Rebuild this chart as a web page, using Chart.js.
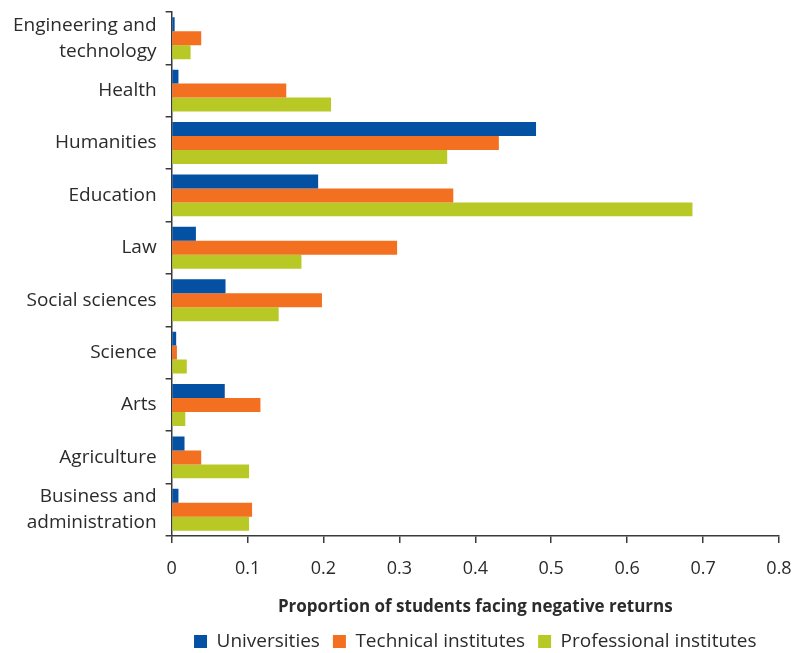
<!DOCTYPE html>
<html>
<head>
<meta charset="utf-8">
<script src="https://cdn.jsdelivr.net/npm/chart.js@4/dist/chart.umd.min.js"></script>
<style>
	html, body { margin: 0; padding: 0; background: #fff; }
	#wrap { width: 792px; height: 653px; }
</style>
</head>
<body>
<div id="wrap"><canvas id="chart" width="792" height="653"></canvas></div>
<script>
let canvas = document.getElementById('chart');
let ctx = canvas.getContext('2d');

let categories = [
	['Engineering and', 'technology'],
	'Health',
	'Humanities',
	'Education',
	'Law',
	'Social sciences',
	'Science',
	'Arts',
	'Agriculture',
	['Business and', 'administration']
];
let universities = [0.004, 0.009, 0.48, 0.193, 0.032, 0.071, 0.006, 0.07, 0.017, 0.009];
let technical = [0.039, 0.151, 0.431, 0.371, 0.297, 0.198, 0.007, 0.117, 0.039, 0.106];
let professional = [0.025, 0.21, 0.363, 0.686, 0.171, 0.141, 0.02, 0.018, 0.102, 0.102];
let xTicks = [0, 0.1, 0.2, 0.3, 0.4, 0.5, 0.6, 0.7, 0.8];

let axisColor = '#3a3a3a';
let textColor = '#2b2b2b';
let fontFamily = '"Open Sans", "Noto Sans", sans-serif';

// centre the legend under the plot area instead of the whole canvas
let legendUnderPlot = {
	id: 'legendUnderPlot',
	afterLayout(chart){
		let area = chart.chartArea;
		chart.legend.left = area.left;
		chart.legend.right = area.right;
	}
};

let chart = new Chart(ctx, {
	type: 'bar',
	data: {
		labels: categories,
		datasets: [
			{ label: 'Universities', data: universities, backgroundColor: '#0450a2' },
			{ label: 'Technical institutes', data: technical, backgroundColor: '#f37021' },
			{ label: 'Professional institutes', data: professional, backgroundColor: '#b8c925' }
		]
	},
	plugins: [legendUnderPlot],
	options: {
		indexAxis: 'y',
		responsive: false,
		animation: false,
		datasets: {
			bar: { categoryPercentage: 0.8, barPercentage: 1.0 }
		},
		layout: { padding: { top: 12, right: 0, left: 4, bottom: -8 } },
		scales: {
			x: {
				min: 0,
				max: 0.8,
				afterBuildTicks: (axis) => { axis.ticks = xTicks.map(v => ({ value: v })); },
				afterFit: (axis) => { axis.paddingRight = 13; },
				border: { display: true, color: axisColor, width: 1.5 },
				grid: { drawOnChartArea: false, drawTicks: true, tickLength: 7, color: axisColor, lineWidth: 1.5 },
				ticks: {
					color: textColor,
					font: { family: fontFamily, size: 18 },
					padding: 15,
					callback: (v) => String(Math.round(v * 10) / 10)
				},
				title: {
					display: true,
					text: 'Proportion of students facing negative returns',
					color: textColor,
					font: { family: fontFamily, size: 17, weight: 'bold' },
					padding: { top: 2, bottom: 2 }
				}
			},
			y: {
				afterFit: (axis) => { axis.paddingTop = 0; axis.paddingBottom = 0; },
				border: { display: true, color: axisColor, width: 1.5 },
				grid: { drawOnChartArea: false, drawTicks: true, tickLength: 6, color: axisColor, lineWidth: 1.5, offset: true },
				ticks: {
					color: textColor,
					font: { family: fontFamily, size: 19, lineHeight: 1.37 },
					padding: 9,
					autoSkip: false
				}
			}
		},
		plugins: {
			legend: {
				position: 'bottom',
				labels: {
					color: textColor,
					font: { family: fontFamily, size: 19 },
					boxWidth: 13,
					boxHeight: 13,
					padding: 13
				}
			},
			tooltip: { enabled: false }
		}
	}
});
</script>
</body>
</html>
